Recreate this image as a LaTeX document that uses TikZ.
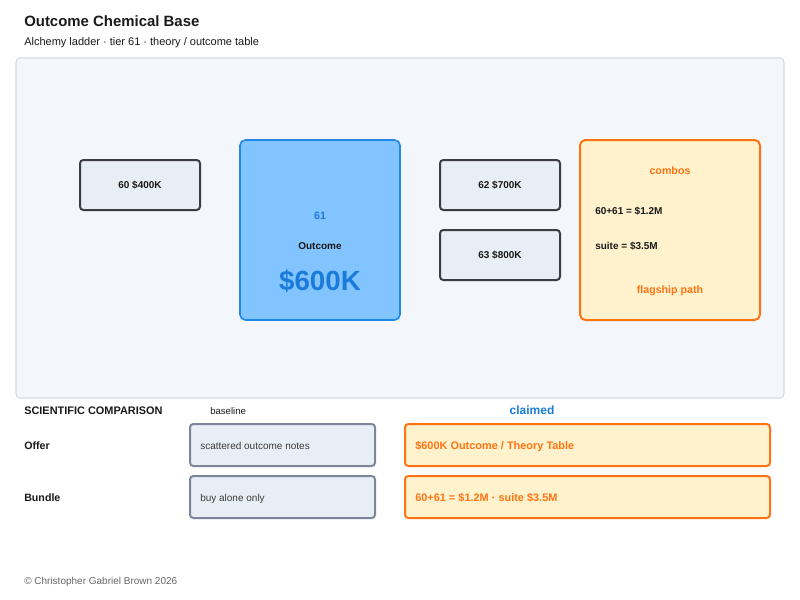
\documentclass[tikz,border=0pt]{standalone}
\usepackage{fontspec}
\setmainfont{Liberation Sans}
\usepackage{xcolor}
\usepackage{tikz}
\definecolor{panel_fill}{HTML}{F3F6FA}
\definecolor{panel_line}{HTML}{D3DBE4}
\definecolor{tier_fill}{HTML}{E8EEF6}
\definecolor{tier_line}{HTML}{3C3D42}
\definecolor{base_line}{HTML}{7B8799}
\definecolor{core_fill}{HTML}{82C4FF}
\definecolor{core_line}{HTML}{1E88E5}
\definecolor{core_text}{HTML}{1A7BDB}
\definecolor{combo_fill}{HTML}{FFF2CC}
\definecolor{combo_line}{HTML}{FF7412}
\definecolor{ink}{HTML}{1A1A1A}
\definecolor{muted}{HTML}{666666}

\begin{document}
\begin{tikzpicture}[x=0.75pt, y=-0.75pt, every node/.style={font=\fontsize{7.5}{9}\selectfont, text=ink},
    tierbox/.style={draw=tier_line, fill=tier_fill, line width=1.5pt, rounded corners=2.5pt,
                    minimum width=90pt, minimum height=37.5pt, inner sep=0pt, font=\fontsize{7.5}{9}\selectfont\bfseries},
    rowbox/.style={line width=1.5pt, rounded corners=2.5pt, minimum height=31.5pt, inner sep=0pt},
    rowtext/.style={anchor=mid west, inner sep=0pt}]
        \useasboundingbox[fill=white] (0,0) rectangle (800,600);
        % header
        \node[anchor=west, inner sep=0pt, font=\fontsize{11.2}{13}\selectfont\bfseries]
              (title) at (24,21) {Outcome Chemical Base};
        \node[rowtext, font=\fontsize{8.25}{10}\selectfont]
              (subtitle) at (24,42) {Alchemy ladder · tier 61 · theory / outcome table};
        % main panel
        \node[draw=panel_line, fill=panel_fill, line width=0.9pt, rounded corners=3pt,
              minimum width=576pt, minimum height=255pt, inner sep=0pt]
              (panel) at (400,228) {};
        \node[tierbox] (t60) at (140,185) {60 \$400K};
        \node[draw=core_line, fill=core_fill, line width=1.2pt, rounded corners=4pt,
              minimum width=120pt, minimum height=135pt, inner sep=0pt]
              (t61) at (320,230) {};
        \node[text=core_text, font=\fontsize{8}{9}\selectfont\bfseries] (t61num) at (320,216) {61};
        \node[font=\fontsize{7.5}{9}\selectfont\bfseries] (t61name) at (320,246) {Outcome};
        \node[text=core_text, font=\fontsize{20.8}{24}\selectfont\bfseries] (t61price) at (320,281) {\$600K};
        \node[tierbox] (t62) at (500,185) {62 \$700K};
        \node[tierbox] (t63) at (500,255) {63 \$800K};
        \node[draw=combo_line, fill=combo_fill, line width=1.5pt, rounded corners=4pt,
              minimum width=135pt, minimum height=135pt, inner sep=0pt]
              (combos) at (670,230) {};
        \node[text=combo_line, font=\fontsize{8}{9}\selectfont\bfseries] (combohead) at (670,171) {combos};
        \node[rowtext, font=\fontsize{7.5}{9}\selectfont\bfseries] (combo1) at (595,211) {60+61 = \$1.2M};
        \node[rowtext, font=\fontsize{7.5}{9}\selectfont\bfseries] (combo2) at (595,246) {suite = \$3.5M};
        \node[text=combo_line, font=\fontsize{8}{9}\selectfont\bfseries] (combofoot) at (670,291) {flagship path};
        % comparison table
        \node[rowtext, font=\fontsize{8.2}{10}\selectfont\bfseries] (cmphead) at (24,411) {SCIENTIFIC COMPARISON};
        \node[rowtext, font=\fontsize{7.2}{8}\selectfont] (basehead) at (210,411) {baseline};
        \node[text=core_text, font=\fontsize{9}{10}\selectfont\bfseries] (claimhead) at (532,410) {claimed};
        \node[rowtext, font=\fontsize{8}{9}\selectfont\bfseries] (offer) at (24,446) {Offer};
        \node[rowtext, font=\fontsize{8}{9}\selectfont\bfseries] (bundle) at (24,498) {Bundle};
        \node[rowbox, draw=base_line, fill=tier_fill, minimum width=138.75pt] (offerbase) at (282.5,445) {};
        \node[rowbox, draw=base_line, fill=tier_fill, minimum width=138.75pt] (bundlebase) at (282.5,497) {};
        \node[rowtext, text=ink!85, font=\fontsize{7.5}{9}\selectfont] at (200,446) {scattered outcome notes};
        \node[rowtext, text=ink!85, font=\fontsize{7.5}{9}\selectfont] at (200,498) {buy alone only};
        \node[rowbox, draw=combo_line, fill=combo_fill, minimum width=273.75pt] (offerclaim) at (587.5,445) {};
        \node[rowbox, draw=combo_line, fill=combo_fill, minimum width=273.75pt] (bundleclaim) at (587.5,497) {};
        \node[rowtext, text=combo_line, font=\fontsize{8.2}{10}\selectfont\bfseries] at (415,446) {\$600K Outcome / Theory Table};
        \node[rowtext, text=combo_line, font=\fontsize{8.2}{10}\selectfont\bfseries] at (415,498) {60+61 = \$1.2M · suite \$3.5M};
        % footer
        \node[rowtext, text=muted, font=\fontsize{7.5}{9}\selectfont] (footer) at (24,581) {© Christopher Gabriel Brown 2026};
      \end{tikzpicture}
\end{document}
